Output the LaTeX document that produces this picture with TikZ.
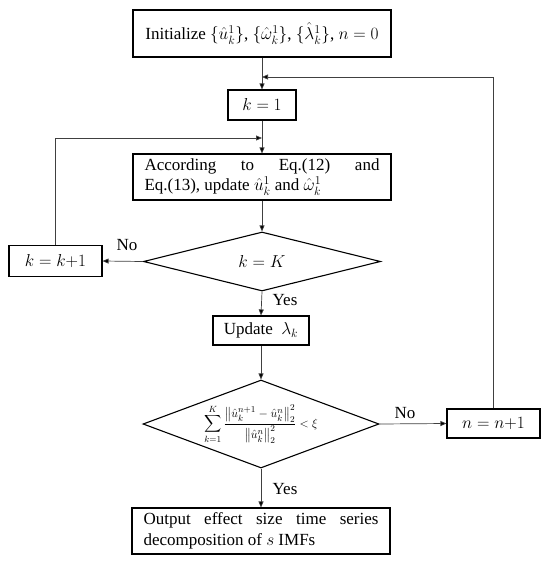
\documentclass[tikz,border=0pt]{standalone}
\usepackage{amsmath}
\usepackage{fontspec}
\setmainfont{Liberation Serif}
\usetikzlibrary{shapes.geometric,arrows.meta}
\begin{document}
\begin{tikzpicture}[x=1pt,y=-1pt,
  every node/.style={font=\fontsize{17}{20.5}\selectfont},
  box/.style={draw=black,line width=1.1pt,inner sep=0pt,align=center},
  parbox/.style={draw=black,line width=1.1pt,inner xsep=11.5pt,inner ysep=0pt,text width=235pt,align=justify},
  dia/.style={draw=black,line width=1.1pt,diamond,inner sep=0pt},
  conn/.style={draw=black!75,line width=0.7pt,-{Triangle[length=6pt,width=5pt,fill=black]}},
  lbl/.style={inner sep=0pt}]
\useasboundingbox (0,0) rectangle (550,564);
\node[box,minimum width=258pt,minimum height=47pt] (init) at (262,33.5)
  {Initialize $\{\hat{u}_k^1\}$, $\{\hat{\omega}_k^1\}$, $\{\hat{\lambda}_k^1\}$, $n=0$};
\node[box,minimum width=68pt,minimum height=30pt] (k1) at (262,105) {$k=1$};
\node[parbox,minimum height=46pt] (upd) at (262,177)
  {According to Eq.(12) and\linebreak Eq.(13), update $\hat{u}_k^1$ and $\hat{\omega}_k^1$};
\node[dia,minimum width=237pt,minimum height=51pt] (d1) at (262,261.5) {$k=K$};
\node[box,minimum width=93pt,minimum height=31pt] (kk) at (55.5,261) {$k=k{+}1$};
\node[box,minimum width=96pt,minimum height=29pt] (lam) at (261,330.5) {Update\ \ $\lambda_k$};
\node[dia,minimum width=236pt,minimum height=88pt] (d2) at (261,424) {};
\node[inner sep=0pt,font=\fontsize{13}{15}\selectfont] (d2t) at (d2.center)
  {$\displaystyle\sum_{k=1}^{K}\frac{\left\|\hat{u}_k^{n+1}-\hat{u}_k^{n}\right\|_2^2}{\left\|\hat{u}_k^{n}\right\|_2^2}<\xi$};
\node[box,minimum width=93pt,minimum height=29pt] (nn) at (493.5,423.5) {$n=n{+}1$};
\node[parbox,minimum height=46pt] (out) at (261,531)
  {Output effect size time series\linebreak decomposition of $s$ IMFs};
\coordinate (j1) at (262,77);
\coordinate (j2) at (262,138);
\draw[conn] (init.south) -- (k1.north);
\draw[conn] (nn.north) |- (j1);
\draw[conn] (k1.south) -- (upd.north);
\draw[conn] (kk.north) |- (j2);
\draw[conn] (upd.south) -- (d1.north);
\draw[conn] (d1.west) -- (kk.east);
\draw[conn] (d1.south) -- (lam.north);
\draw[conn] (lam.south) -- (d2.north);
\draw[conn] (d2.east) -- (nn.west);
\draw[conn] (d2.south) -- (out.north);
\node[lbl] (no1) at (127,245) {No};
\node[lbl] (yes1) at (285,300) {Yes};
\node[lbl] (no2) at (405,413) {No};
\node[lbl] (yes2) at (285,489) {Yes};
\end{tikzpicture}
\end{document}
